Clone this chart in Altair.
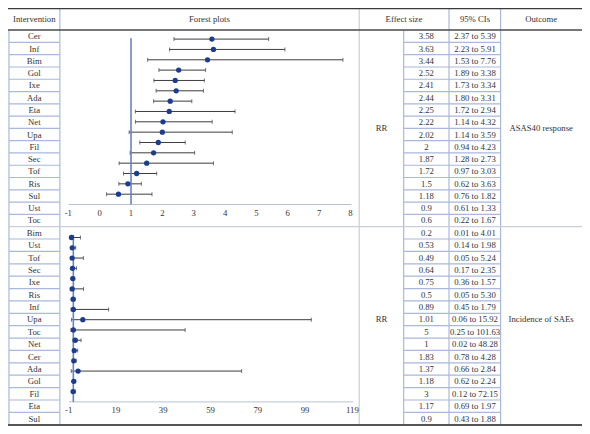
import altair as alt
import pandas as pd

# ---------------- data ----------------
names_top = ["Cer", "Inf", "Bim", "Gol", "Ixe", "Ada", "Eta", "Net",
             "Upa", "Fil", "Sec", "Tof", "Ris", "Sul", "Ust", "Toc"]
es_top = [3.58, 3.63, 3.44, 2.52, 2.41, 2.44, 2.25, 2.22,
          2.02, 2, 1.87, 1.72, 1.5, 1.18, 0.9, 0.6]
lo_top = [2.37, 2.23, 1.53, 1.89, 1.73, 1.80, 1.72, 1.14,
          1.14, 0.94, 1.28, 0.97, 0.62, 0.76, 0.61, 0.22]
hi_top = [5.39, 5.91, 7.76, 3.38, 3.34, 3.31, 2.94, 4.32,
          3.59, 4.23, 2.73, 3.03, 3.63, 1.82, 1.33, 1.67]

names_bot = ["Bim", "Ust", "Tof", "Sec", "Ixe", "Ris", "Inf", "Upa",
             "Toc", "Net", "Cer", "Ada", "Gol", "Fil", "Eta", "Sul"]
es_bot = [0.2, 0.53, 0.49, 0.64, 0.75, 0.5, 0.89, 1.01,
          5, 1, 1.83, 1.37, 1.18, 3, 1.17, 0.9]
lo_bot = [0.01, 0.14, 0.05, 0.17, 0.36, 0.05, 0.45, 0.06,
          0.25, 0.02, 0.78, 0.66, 0.62, 0.12, 0.69, 0.43]
hi_bot = [4.01, 1.98, 5.24, 2.35, 1.57, 5.30, 1.79, 15.92,
          101.63, 48.28, 4.28, 2.84, 2.24, 72.15, 1.97, 1.88]

ticks_top = [-1, 0, 1, 2, 3, 4, 5, 6, 7, 8]
ticks_bot = [-1, 19, 39, 59, 79, 99, 119]

headers = ["Intervention", "Forest plots", "Effect size", "95% CIs", "Outcome"]
outcomes = ["ASAS40 response", "Incidence of SAEs"]
measure = "RR"

# ---------------- layout helpers ----------------
W, H = 574, 418
SX, SY = W / 590, H / 434


def X(v):
    return v * SX


def Y(v):
    return v * SY


FONT = "Liberation Serif"
FS = 8.7
TXT = "#333333"
GRID = "#a9b8dc"
GRAY = "#c9ced9"
DARK = "#3a3a3a"
AXISC = "#b9c2d4"
DOT = "#1c3d8f"
REF = "#6682c8"
BAR = "#3d3d3d"


def one():
    return alt.Chart(pd.DataFrame({"k": [0]}))


def hline(y, x1, x2, color, w):
    return one().mark_rule(color=color, strokeWidth=w).encode(
        x=alt.value(X(x1)), x2=alt.value(X(x2)), y=alt.value(Y(y)))


def vline(x, y1, y2, color, w):
    return one().mark_rule(color=color, strokeWidth=w).encode(
        x=alt.value(X(x)), y=alt.value(Y(y1)), y2=alt.value(Y(y2)))


def label(text, x, y):
    return one().mark_text(text=text, font=FONT, fontSize=FS, color=TXT,
                           align="center", baseline="middle").encode(
        x=alt.value(X(x)), y=alt.value(Y(y)))


def panel_df(names, es, lo, hi):
    return pd.DataFrame({
        "row": list(range(len(names))),
        "name": names,
        "es": es,
        "lo": lo,
        "hi": hi,
        "es_txt": [str(v) for v in es],
        "ci_txt": [f"{a:.2f} to {b:.2f}" for a, b in zip(lo, hi)],
    })


def table_layers(df, y0, y1):
    sc = alt.Scale(domain=[-0.5, 15.5], range=[Y(y0), Y(y1)], nice=False, zero=False)
    ys = alt.Y("row:Q", scale=sc, axis=None)
    edges = pd.DataFrame({"edge": [i + 0.5 for i in range(15)]})
    ye = alt.Y("edge:Q", scale=sc, axis=None)
    base = alt.Chart(df)
    txt = dict(font=FONT, fontSize=FS, color=TXT, align="center", baseline="middle")
    return [
        alt.Chart(edges).mark_rule(color=GRID, strokeWidth=1.2).encode(
            y=ye, x=alt.value(X(1)), x2=alt.value(X(53.3))),
        alt.Chart(edges).mark_rule(color=GRID, strokeWidth=1.2).encode(
            y=ye, x=alt.value(X(406.7)), x2=alt.value(X(506.3))),
        base.mark_text(**txt).encode(x=alt.value(X(27)), y=ys, text="name:N"),
        base.mark_text(**txt).encode(x=alt.value(X(430)), y=ys, text="es_txt:N"),
        base.mark_text(**txt).encode(x=alt.value(X(480)), y=ys, text="ci_txt:N"),
    ]


def forest_layers(df, dom, xr, yr, ticks, axis_y, lab_y, ref_top):
    xsc = alt.Scale(domain=dom, range=[X(xr[0]), X(xr[1])], nice=False, zero=False)
    ysc = alt.Scale(domain=[0, 15], range=[Y(yr[0]), Y(yr[1])], nice=False, zero=False)
    ys = alt.Y("row:Q", scale=ysc, axis=None)
    base = alt.Chart(df)
    tick_df = pd.DataFrame({"t": ticks, "lab": [str(t) for t in ticks]})
    return [
        hline(axis_y, xr[0] + 0.5, xr[1] + 1, AXISC, 1),
        base.mark_rule(color=BAR, strokeWidth=1).encode(
            x=alt.X("lo:Q", scale=xsc, axis=None), x2="hi:Q", y=ys),
        base.transform_fold(["lo", "hi"], as_=["end", "val"]).mark_tick(
            color=BAR, orient="vertical", size=4, thickness=1).encode(
            x=alt.X("val:Q", scale=xsc, axis=None), y=ys),
        alt.Chart(pd.DataFrame({"ref": [1]})).mark_rule(color=REF, strokeWidth=1.6).encode(
            x=alt.X("ref:Q", scale=xsc, axis=None),
            y=alt.value(Y(ref_top)), y2=alt.value(Y(axis_y))),
        base.mark_circle(color=DOT, size=28, opacity=1).encode(
            x=alt.X("es:Q", scale=xsc, axis=None), y=ys),
        alt.Chart(tick_df).mark_text(font=FONT, fontSize=FS, color=TXT,
                                     align="center", baseline="middle").encode(
            x=alt.X("t:Q", scale=xsc, axis=None), y=alt.value(Y(lab_y)), text="lab:N"),
    ]


top = panel_df(names_top, es_top, lo_top, hi_top)
bot = panel_df(names_bot, es_bot, lo_bot, hi_bot)

layers = []
# grid: vertical lines
layers += [
    vline(1, 23, 433, GRID, 1.2),
    vline(53.3, 0, 433, GRID, 1.2),
    vline(361, 0, 433, GRAY, 1.2),
    vline(406.7, 23, 433, GRID, 1.2),
    vline(453.3, 0, 433, GRID, 1.2),
    vline(506.3, 0, 433, GRID, 1.2),
]
# section divider and borders
layers += [
    hline(227, 0, 590, GRAY, 1.2),
    hline(0.6, 0, 590, DARK, 1.4),
    hline(22.8, 0, 590, "#4a4a4a", 1.6),
    hline(433, 0, 590, "#555555", 2),
]
# headers
for t, x in zip(headers, [27, 207, 407, 480, 548]):
    layers.append(label(t, x, 11.5))
layers += [
    label(measure, 384, 125),
    label(measure, 384, 323),
    label(outcomes[0], 548, 125),
    label(outcomes[1], 548, 323),
]
layers += table_layers(top, 23, 227)
layers += table_layers(bot, 227, 432.7)
layers += forest_layers(top, [-1, 8], (62, 352), (32.3, 193.3), ticks_top, 204, 213, 31.5)
layers += forest_layers(bot, [-1, 119], (62.3, 354), (238.3, 398.3), ticks_bot, 409, 417.7, 235.5)

chart = alt.layer(*layers).resolve_scale(
    x="independent", y="independent"
).properties(
    width=W, height=H,
    autosize=alt.AutoSizeParams(type="none"),
    padding=0,
    background="white",
).configure_view(strokeWidth=0)

chart.save("out.html", embed_options={"renderer": "svg", "actions": False})
